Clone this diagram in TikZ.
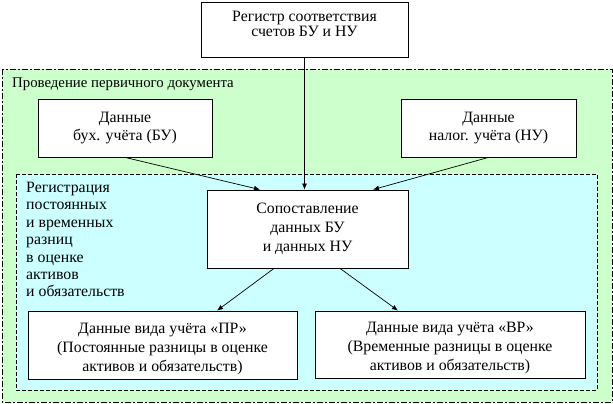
\documentclass[tikz,border=0pt]{standalone}
\usepackage{fontspec}
\setmainfont{Liberation Serif}
\usetikzlibrary{arrows.meta}
\definecolor{zonegreen}{HTML}{CCFFCC}
\definecolor{zoneblue}{HTML}{CCFFFF}

\begin{document}
\begin{tikzpicture}[
  x=1pt, y=-1pt,
  databox/.style={draw,fill=white,line width=0.8pt,align=center,inner sep=0pt},
  zonetext/.style={inner sep=0pt,align=left},
  ]
  \tikzset{%
    link/.style={
      -{Latex[length=6pt,width=5pt]},
      line width=0.7pt,
    },
  }
  \useasboundingbox (0,0) rectangle (613,404);
  %Areas
  \draw[fill=zonegreen,line width=0.8pt,dash pattern=on 6pt off 2pt on 2pt off 2pt]
    (2,69) rectangle (612,402);
  \draw[fill=zoneblue,line width=0.8pt,dash pattern=on 4pt off 2pt]
    (16,174) rectangle (597,390);
  \node[zonetext,anchor=base west,font=\fontsize{14.8}{17}\selectfont](doc) at (12,87)
    {Проведение первичного документа};
  \node[zonetext,anchor=north west,font=\fontsize{15.8}{17.4}\selectfont](reglabel) at (26,182)
    {Регистрация\\постоянных\\и временных\\разниц\\в оценке\\активов\\и обязательств};
  %Nodes
  \node[databox,minimum width=207pt,minimum height=55pt,text depth=11pt,font=\fontsize{15.8}{15}\selectfont](reg) at (304.5,29.5)
    {Регистр соответствия\\счетов БУ и НУ};
  \node[databox,minimum width=174pt,minimum height=58pt,font=\fontsize{15.8}{18}\selectfont](bu) at (125,128)
    {Данные\\бух. учёта (БУ)};
  \node[databox,minimum width=175pt,minimum height=58pt,font=\fontsize{15.8}{18}\selectfont](nu) at (488.5,128)
    {Данные\\налог. учёта (НУ)};
  \node[databox,minimum width=201pt,minimum height=78pt,font=\fontsize{15.8}{19}\selectfont](cmp) at (307.5,229)
    {Сопоставление\\данных БУ\\и данных НУ};
  \node[databox,minimum width=269pt,minimum height=68pt,text height=56pt,font=\fontsize{15.8}{19}\selectfont](pr) at (162.5,345)
    {Данные вида учёта «ПР»\\(Постоянные разницы в оценке\\активов и обязательств)};
  \node[databox,minimum width=270pt,minimum height=67pt,text height=56pt,font=\fontsize{15.8}{19}\selectfont](vr) at (450,344.5)
    {Данные вида учёта «ВР»\\(Временные разницы в оценке\\активов и обязательств)};
  %Lines
  \draw[link] (reg.south) -- (reg.south |- cmp.north);
  \draw[link] (bu.south) -- ([xshift=-47.5pt]cmp.north);
  \draw[link] (nu.south) -- ([xshift=65.5pt]cmp.north);
  \draw[link] ([xshift=-33.5pt]cmp.south) -- ([xshift=54.5pt]pr.north);
  \draw[link] ([xshift=32.5pt]cmp.south) -- ([xshift=-52pt]vr.north);
\end{tikzpicture}
\end{document}
